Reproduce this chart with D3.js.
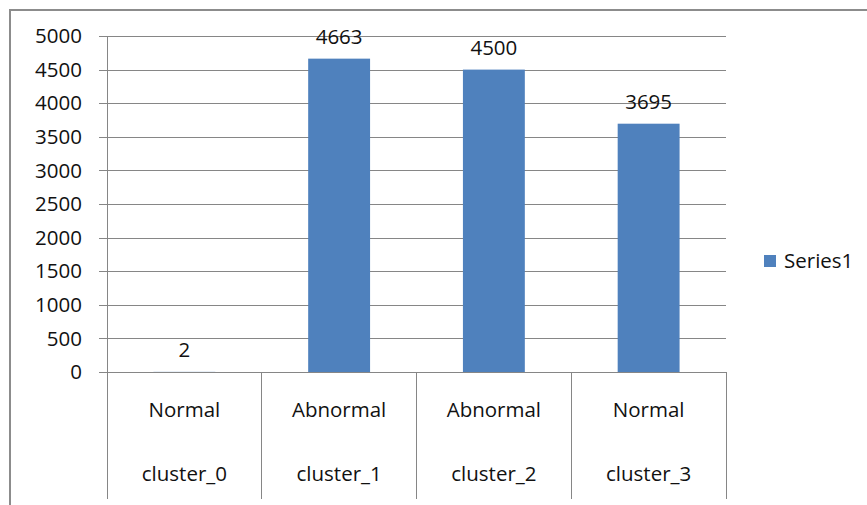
<!DOCTYPE html>
<html>
<head>
<meta charset="utf-8">
<script src="https://cdn.jsdelivr.net/npm/d3@7"></script>
<style>
  html, body { margin: 0; padding: 0; background: #fff; }
  svg { display: block; }
  text { font-family: "Open Sans", "Noto Sans", sans-serif; fill: #111; }
</style>
</head>
<body>
<svg id="chart" width="867" height="505"></svg>
<script>
// Cluster counts with their status label
const clusters = ["cluster_0", "cluster_1", "cluster_2", "cluster_3"];
const statuses = ["Normal", "Abnormal", "Abnormal", "Normal"];
const series1 = [2, 4663, 4500, 3695];
const yTicks = [0, 500, 1000, 1500, 2000, 2500, 3000, 3500, 4000, 4500, 5000];
const seriesName = "Series1";

const W = 867, H = 505;
const plot = { left: 107, right: 726, top: 36, bottom: 372 };
const barColor = "#4f81bd";
const gridColor = "#868686";
const fontSize = 20.5;

const svg = d3.select("#chart");

// chart frame (runs off the right and bottom edges)
svg.append("rect")
  .attr("x", 10).attr("y", 10)
  .attr("width", W + 20).attr("height", H + 20)
  .attr("fill", "#fff")
  .attr("stroke", "#8c8c8c").attr("stroke-width", 2);

const x = d3.scaleBand()
  .domain(clusters)
  .range([plot.left, plot.right])
  .paddingInner(0).paddingOuter(0);

const y = d3.scaleLinear()
  .domain([0, 5000])
  .range([plot.bottom, plot.top]);

// horizontal gridlines with outer tick marks
const yAxis = d3.axisLeft(y)
  .tickValues(yTicks)
  .tickSize(-(plot.right - plot.left))
  .tickFormat("");
const gy = svg.append("g")
  .attr("transform", `translate(${plot.left},0)`)
  .call(yAxis);
gy.select(".domain").remove();
gy.selectAll(".tick line")
  .attr("x1", -8)
  .attr("stroke", gridColor).attr("stroke-width", 1)
  .attr("shape-rendering", "crispEdges");

// y tick labels
svg.append("g").selectAll("text")
  .data(yTicks)
  .join("text")
  .attr("x", 82)
  .attr("y", d => y(d))
  .attr("dy", "0.35em")
  .attr("text-anchor", "end")
  .attr("font-size", fontSize)
  .text(d => d);

// vertical axis line
svg.append("line")
  .attr("x1", plot.left).attr("x2", plot.left)
  .attr("y1", plot.top).attr("y2", plot.bottom)
  .attr("stroke", gridColor).attr("shape-rendering", "crispEdges");

// bars: width is band / 2.5 (gap width 150%)
const barW = x.bandwidth() / 2.5;
svg.append("g").selectAll("rect")
  .data(clusters)
  .join("rect")
  .attr("x", (d) => x(d) + (x.bandwidth() - barW) / 2)
  .attr("y", (d, i) => y(series1[i]))
  .attr("width", barW)
  .attr("height", (d, i) => y(0) - y(series1[i]))
  .attr("fill", barColor);

// value labels above bars
svg.append("g").selectAll("text")
  .data(clusters)
  .join("text")
  .attr("x", d => x(d) + x.bandwidth() / 2)
  .attr("y", (d, i) => y(series1[i]) - 22)
  .attr("dy", "0.35em")
  .attr("text-anchor", "middle")
  .attr("font-size", fontSize)
  .text((d, i) => series1[i]);

// multi-level category axis: dividers and two rows of labels
const dividers = clusters.map(d => x(d)).concat([x.range()[1]]);
svg.append("g").selectAll("line")
  .data(dividers)
  .join("line")
  .attr("x1", d => d).attr("x2", d => d)
  .attr("y1", plot.bottom).attr("y2", 499)
  .attr("stroke", gridColor).attr("shape-rendering", "crispEdges");

svg.append("g").selectAll("text")
  .data(clusters)
  .join("text")
  .attr("x", d => x(d) + x.bandwidth() / 2)
  .attr("y", 410)
  .attr("dy", "0.35em")
  .attr("text-anchor", "middle")
  .attr("font-size", fontSize)
  .text((d, i) => statuses[i]);

svg.append("g").selectAll("text")
  .data(clusters)
  .join("text")
  .attr("x", d => x(d) + x.bandwidth() / 2)
  .attr("y", 474)
  .attr("dy", "0.35em")
  .attr("text-anchor", "middle")
  .attr("font-size", fontSize)
  .text(d => d);

// legend
const lg = svg.append("g").attr("transform", "translate(764,255)");
lg.append("rect").attr("width", 12).attr("height", 12).attr("fill", barColor);
lg.append("text")
  .attr("x", 20).attr("y", 6)
  .attr("dy", "0.35em")
  .attr("font-size", fontSize)
  .text(seriesName);
</script>
</body>
</html>
